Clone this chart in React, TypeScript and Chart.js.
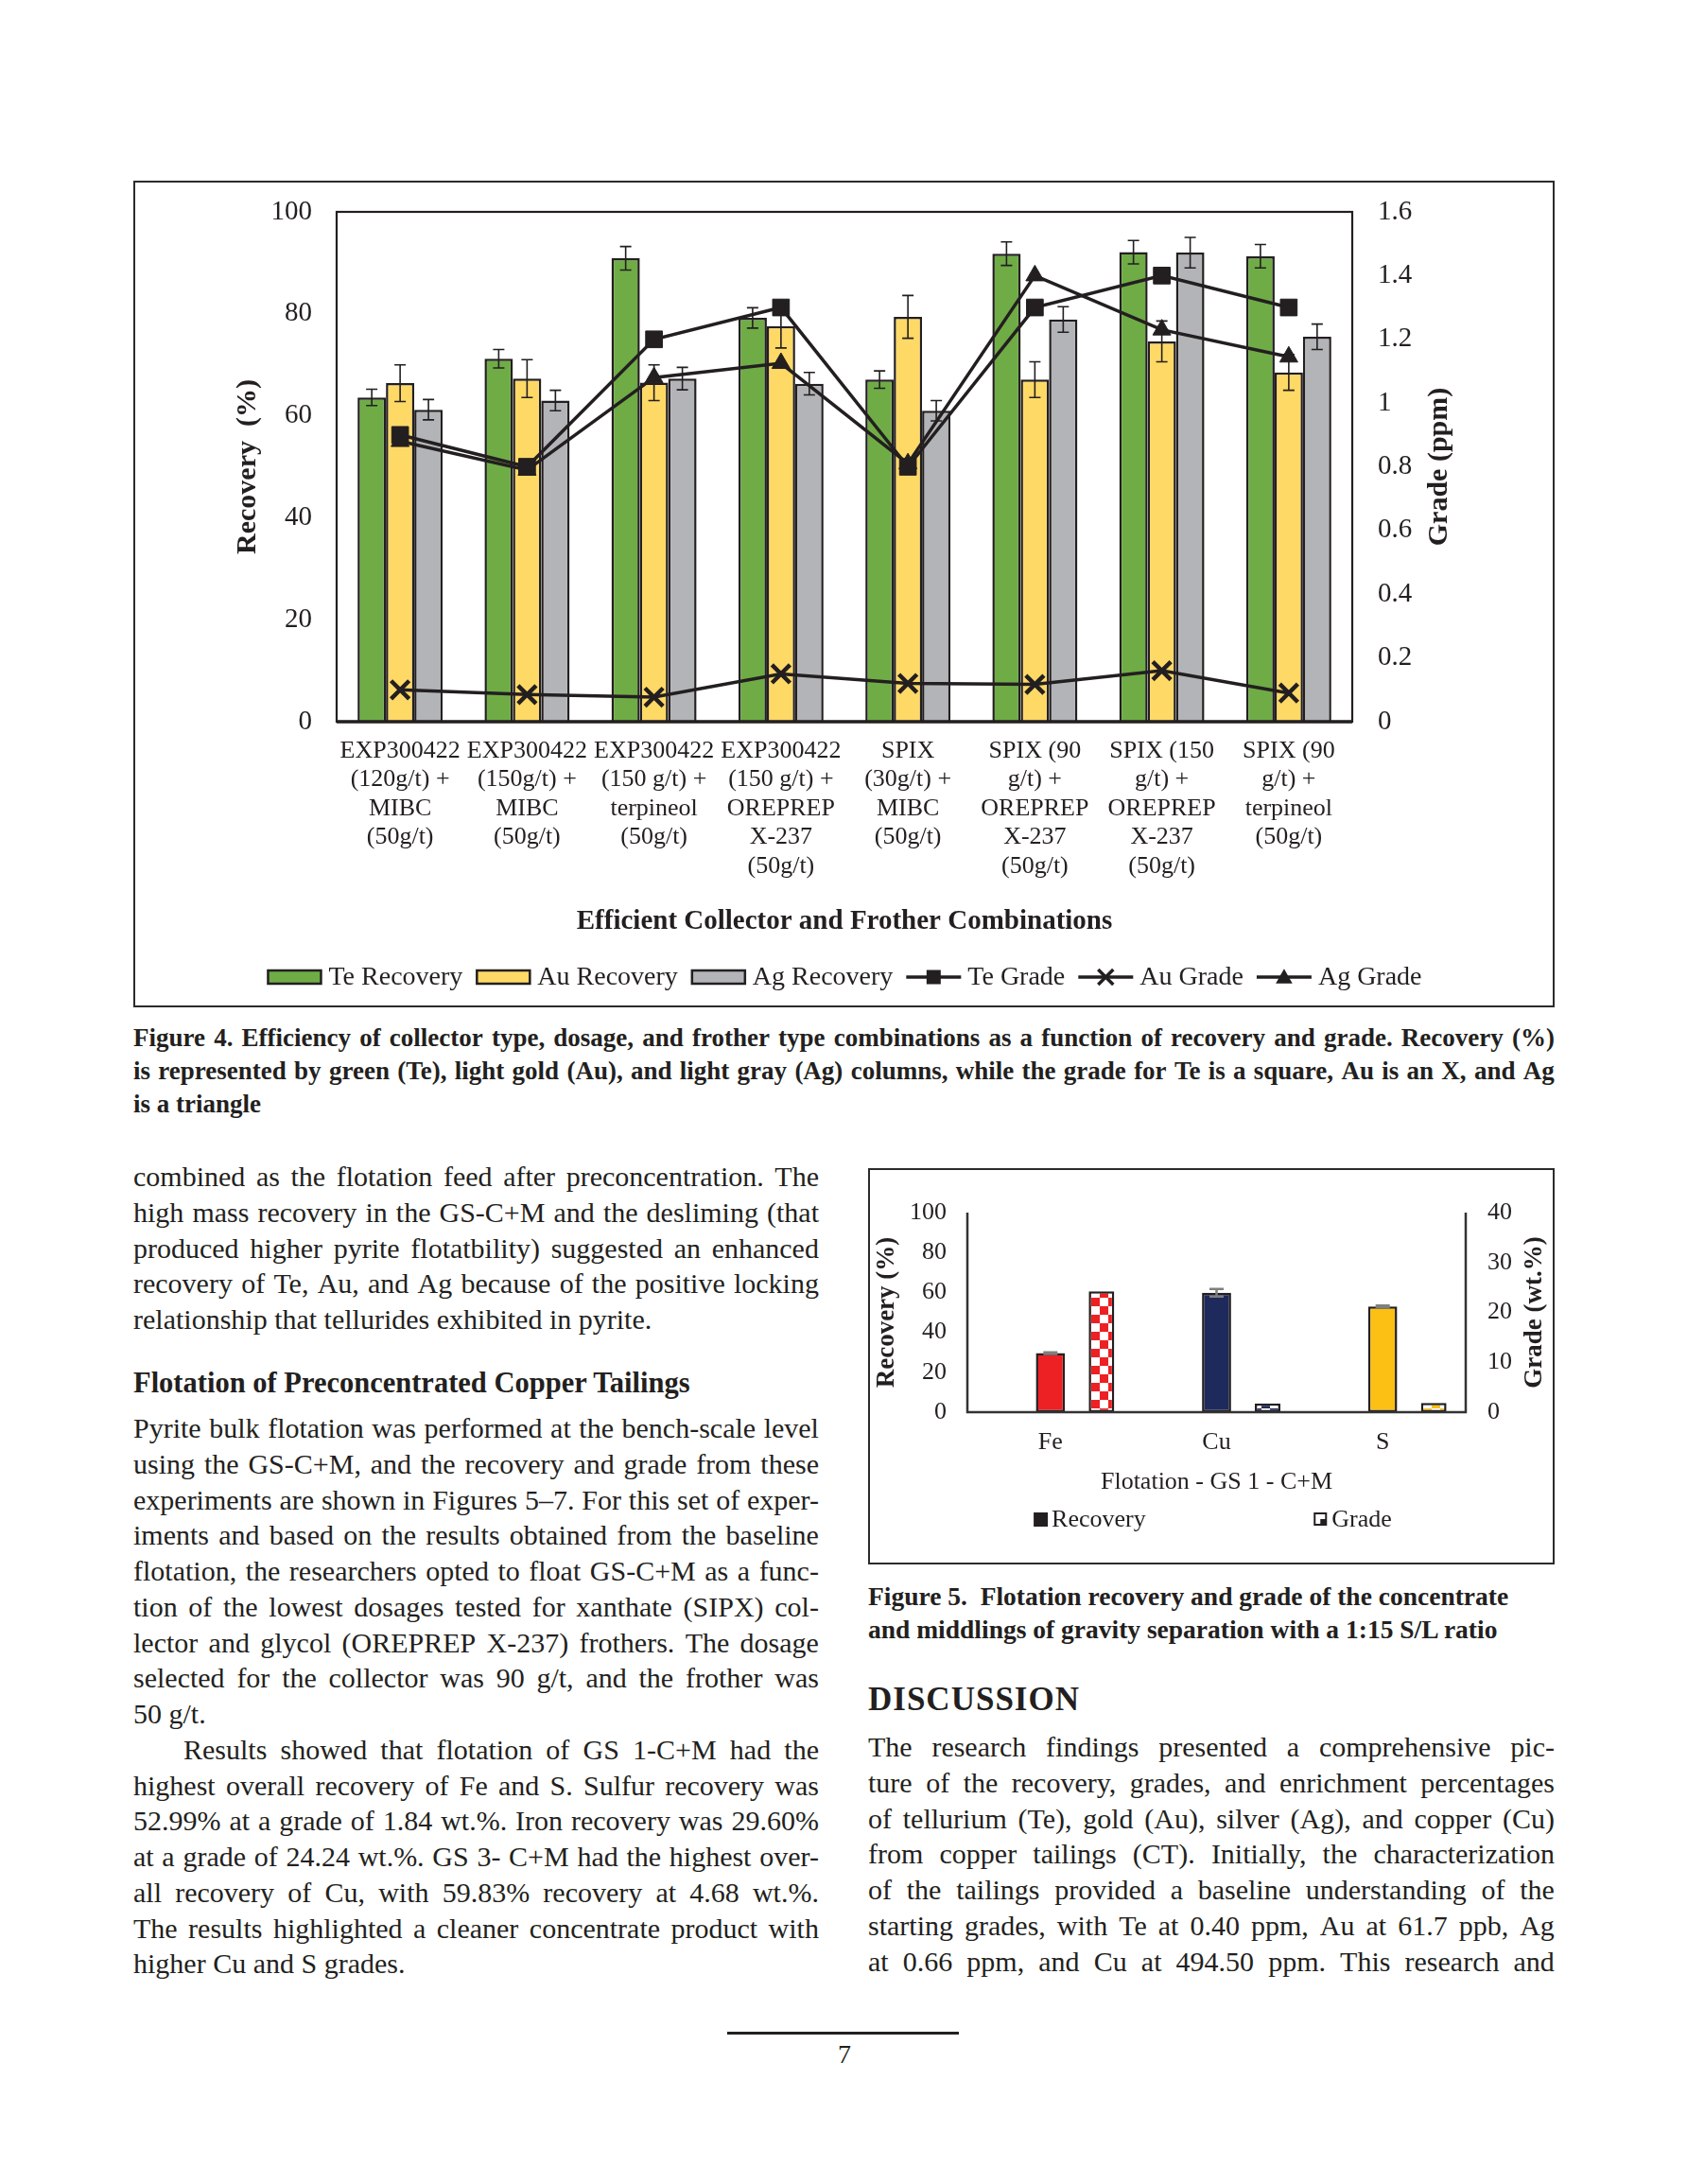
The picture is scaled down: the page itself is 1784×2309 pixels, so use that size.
import React, { useEffect, useRef } from "react";
import { Chart, registerables } from "chart.js";

Chart.register(...registerables);

const SERIF = "'Liberation Serif', 'Times New Roman', serif";
const INK = "#231f20";

// ---------------- Figure 4 data ----------------
const fig4Categories: string[][] = [
  ["EXP300422", "(120g/t) +", "MIBC", "(50g/t)"],
  ["EXP300422", "(150g/t) +", "MIBC", "(50g/t)"],
  ["EXP300422", "(150 g/t) +", "terpineol", "(50g/t)"],
  ["EXP300422", "(150 g/t) +", "OREPREP", "X-237", "(50g/t)"],
  ["SPIX", "(30g/t) +", "MIBC", "(50g/t)"],
  ["SPIX (90", "g/t) +", "OREPREP", "X-237", "(50g/t)"],
  ["SPIX (150", "g/t) +", "OREPREP", "X-237", "(50g/t)"],
  ["SPIX (90", "g/t) +", "terpineol", "(50g/t)"],
];
const teRecovery = [63.6, 71.2, 90.9, 79.2, 67.1, 91.8, 92.1, 91.3];
const teRecoveryErr = [1.6, 1.8, 2.3, 2.0, 1.7, 2.3, 2.3, 2.3];
const auRecovery = [66.4, 67.3, 66.5, 77.6, 79.4, 67.1, 74.6, 68.5];
const auRecoveryErr = [3.6, 3.7, 3.5, 4.3, 4.2, 3.5, 4.0, 3.5];
const agRecovery = [61.2, 63.0, 67.3, 66.3, 61.0, 78.9, 92.0, 75.5];
const agRecoveryErr = [2.0, 2.0, 2.2, 2.2, 2.0, 2.5, 3.0, 2.5];
const teGrade = [0.9, 0.8, 1.2, 1.3, 0.8, 1.3, 1.4, 1.3];
const auGrade = [0.1, 0.085, 0.077, 0.15, 0.12, 0.117, 0.16, 0.09];
const agGrade = [0.88, 0.79, 1.08, 1.125, 0.81, 1.4, 1.23, 1.145];
const fig4SeriesLabels = ["Te Recovery", "Au Recovery", "Ag Recovery", "Te Grade", "Au Grade", "Ag Grade"];
const fig4XTitle = "Efficient Collector and Frother Combinations";
const fig4YTitle = "Recovery  (%)";
const fig4Y2Title = "Grade (ppm)";

// ---------------- Figure 5 data ----------------
const fig5Categories = ["Fe", "Cu", "S"];
const fig5Recovery = [29.6, 59.83, 52.99];
const fig5RecoveryErr = [0.4, 1.9, 0.4];
const fig5Grade = [24.24, 1.75, 1.84];
const fig5SeriesLabels = ["Recovery", "Grade"];
const fig5XTitle = "Flotation - GS 1 - C+M";
const fig5YTitle = "Recovery (%)";
const fig5Y2Title = "Grade (wt.%)";

const GREEN = "#6fac46";
const GOLD = "#ffd966";
const GRAY = "#b3b4b7";
const FE_RED = "#ed2024";
const CU_NAVY = "#1f2a5c";
const S_GOLD = "#fcbf14";

// ---------------- plugins ----------------
const errorBarPlugin = {
  id: "errorBars",
  afterDatasetDraw(chart: any, args: any) {
    const ds: any = chart.data.datasets[args.index];
    if (!ds.errors) return;
    const meta = args.meta;
    const yScale = chart.scales[meta.yAxisID];
    const ctx = chart.ctx;
    ctx.save();
    ctx.strokeStyle = ds.errorColor || INK;
    ctx.lineWidth = ds.errorWidth || 1.5;
    const c = (ds.errorCap || 12) / 2;
    meta.data.forEach((el: any, i: number) => {
      const v = ds.data[i];
      const e = ds.errors[i];
      if (v == null || e == null) return;
      const x = el.x;
      const yt = yScale.getPixelForValue(v + e);
      const yb = yScale.getPixelForValue(v - e);
      ctx.beginPath();
      ctx.moveTo(x, yt);
      ctx.lineTo(x, yb);
      ctx.moveTo(x - c, yt);
      ctx.lineTo(x + c, yt);
      ctx.moveTo(x - c, yb);
      ctx.lineTo(x + c, yb);
      ctx.stroke();
    });
    ctx.restore();
  },
};

const rightTitlePlugin = {
  id: "rightTitle",
  afterDraw(chart: any, _args: any, opts: any) {
    if (!opts || !opts.text) return;
    const { ctx, chartArea } = chart;
    const scale = chart.scales[opts.axis];
    ctx.save();
    ctx.font = `bold ${opts.size}px ${SERIF}`;
    ctx.fillStyle = INK;
    ctx.textAlign = "center";
    ctx.textBaseline = "middle";
    ctx.translate(scale.left + opts.offset, (chartArea.top + chartArea.bottom) / 2);
    ctx.rotate(-Math.PI / 2);
    ctx.fillText(opts.text, 0, 0);
    ctx.restore();
  },
};

function drawMarker(ctx: CanvasRenderingContext2D, style: string, x: number, y: number, s: number) {
  ctx.save();
  ctx.fillStyle = INK;
  ctx.strokeStyle = INK;
  if (style === "rect") {
    ctx.fillRect(x - s / 2, y - s / 2, s, s);
  } else if (style === "triangle") {
    ctx.beginPath();
    ctx.moveTo(x, y - s * 0.55);
    ctx.lineTo(x + s * 0.55, y + s * 0.42);
    ctx.lineTo(x - s * 0.55, y + s * 0.42);
    ctx.closePath();
    ctx.fill();
  } else if (style === "crossRot") {
    ctx.lineWidth = 3.5;
    const h = s / 2;
    ctx.beginPath();
    ctx.moveTo(x - h, y - h);
    ctx.lineTo(x + h, y + h);
    ctx.moveTo(x + h, y - h);
    ctx.lineTo(x - h, y + h);
    ctx.stroke();
  }
  ctx.restore();
}

const fig4LegendPlugin = {
  id: "fig4Legend",
  afterDraw(chart: any) {
    const ctx = chart.ctx;
    const y = chart.height - 30;
    ctx.save();
    ctx.font = `28px ${SERIF}`;
    const symW = 58;
    const gapText = 7;
    const gapItem = 14;
    const items = chart.data.datasets.map((ds: any) => ({
      ds,
      w: symW + gapText + ctx.measureText(ds.label).width,
    }));
    const total = items.reduce((a: number, it: any) => a + it.w, 0) + gapItem * (items.length - 1);
    let x = (chart.chartArea.left + chart.chartArea.right) / 2 - total / 2;
    items.forEach((it: any) => {
      const ds = it.ds;
      if (ds.type === "bar") {
        ctx.fillStyle = ds.backgroundColor;
        ctx.fillRect(x + 1, y - 7, symW - 2, 14);
        ctx.lineWidth = 2.5;
        ctx.strokeStyle = INK;
        ctx.strokeRect(x + 1, y - 7, symW - 2, 14);
      } else {
        ctx.strokeStyle = INK;
        ctx.lineWidth = 3.5;
        ctx.beginPath();
        ctx.moveTo(x, y);
        ctx.lineTo(x + symW, y);
        ctx.stroke();
        drawMarker(ctx, ds.pointStyle, x + symW / 2, y, ds.pointStyle === "rect" ? 15 : 16);
      }
      ctx.fillStyle = INK;
      ctx.textAlign = "left";
      ctx.textBaseline = "middle";
      ctx.fillText(ds.label, x + symW + gapText, y + 1);
      x += it.w + gapItem;
    });
    ctx.restore();
  },
};

const fig4FramePlugin = {
  id: "fig4Frame",
  afterDatasetsDraw(chart: any) {
    const { ctx, chartArea } = chart;
    ctx.save();
    ctx.strokeStyle = INK;
    ctx.lineWidth = 2.2;
    ctx.strokeRect(chartArea.left, chartArea.top, chartArea.right - chartArea.left, chartArea.bottom - chartArea.top);
    ctx.lineWidth = 3.5;
    ctx.beginPath();
    ctx.moveTo(chartArea.left, chartArea.bottom);
    ctx.lineTo(chartArea.right, chartArea.bottom);
    ctx.stroke();
    ctx.restore();
  },
};

const fig5AxesPlugin = {
  id: "fig5Axes",
  afterDatasetsDraw(chart: any) {
    const { ctx, chartArea } = chart;
    ctx.save();
    ctx.strokeStyle = "#333333";
    ctx.lineWidth = 2.5;
    ctx.beginPath();
    ctx.moveTo(chartArea.left, chartArea.top);
    ctx.lineTo(chartArea.left, chartArea.bottom);
    ctx.lineTo(chartArea.right, chartArea.bottom);
    ctx.lineTo(chartArea.right, chartArea.top);
    ctx.stroke();
    ctx.restore();
  },
};

const fig5LegendPlugin = {
  id: "fig5Legend",
  afterDraw(chart: any) {
    const { ctx, chartArea } = chart;
    const y = chart.height - 46;
    const w = chartArea.right - chartArea.left;
    ctx.save();
    ctx.font = `26px ${SERIF}`;
    ctx.textBaseline = "middle";
    ctx.textAlign = "left";
    const x1 = chartArea.left + 0.133 * w;
    ctx.fillStyle = INK;
    ctx.fillRect(x1, y - 7, 15, 15);
    ctx.fillText(fig5SeriesLabels[0], x1 + 19, y + 1);
    const x2 = chartArea.left + 0.695 * w;
    ctx.fillStyle = INK;
    ctx.fillRect(x2, y - 7, 14, 14);
    ctx.fillStyle = "#ffffff";
    ctx.fillRect(x2 + 2, y - 5, 10, 5);
    ctx.fillRect(x2 + 2, y, 5, 5);
    ctx.fillStyle = INK;
    ctx.fillText(fig5SeriesLabels[1], x2 + 19, y + 1);
    ctx.restore();
  },
};

const tickFont = (size: number) => ({ family: SERIF, size });

// fix the width of a vertical axis and drop the extra vertical padding Chart.js derives from tick padding
const fixVertical = (width: number) => (s: any) => {
  s.width = width;
  s.paddingTop = 0;
  s.paddingBottom = 0;
};

function Figure4Chart() {
  const ref = useRef<HTMLCanvasElement>(null);
  useEffect(() => {
    const canvas = ref.current!;
    const barBase = { type: "bar", borderColor: INK, borderWidth: 2.5, yAxisID: "y", order: 2, errorCap: 12, errorWidth: 1.6 };
    const lineBase = {
      type: "line",
      yAxisID: "y2",
      borderColor: INK,
      borderWidth: 3.5,
      pointBackgroundColor: INK,
      pointBorderColor: INK,
      tension: 0,
      order: 1,
    };
    const chart = new Chart(canvas, {
      type: "bar",
      data: {
        labels: fig4Categories as any,
        datasets: [
          { ...barBase, label: fig4SeriesLabels[0], data: teRecovery, errors: teRecoveryErr, backgroundColor: GREEN },
          { ...barBase, label: fig4SeriesLabels[1], data: auRecovery, errors: auRecoveryErr, backgroundColor: GOLD },
          { ...barBase, label: fig4SeriesLabels[2], data: agRecovery, errors: agRecoveryErr, backgroundColor: GRAY },
          { ...lineBase, label: fig4SeriesLabels[3], data: teGrade, pointStyle: "rect", pointRadius: 12.5, pointBorderWidth: 1 },
          { ...lineBase, label: fig4SeriesLabels[4], data: auGrade, pointStyle: "crossRot", pointRadius: 13.5, pointBorderWidth: 4.5 },
          { ...lineBase, label: fig4SeriesLabels[5], data: agGrade, pointStyle: "triangle", pointRadius: 11, pointBorderWidth: 1 },
        ] as any,
      },
      options: {
        responsive: false,
        animation: false,
        devicePixelRatio: 1,
        layout: { padding: { top: 31, bottom: 70, left: 0, right: 0 } },
        datasets: { bar: { categoryPercentage: 0.67, barPercentage: 1.0 } } as any,
        plugins: {
          legend: { display: false },
          tooltip: { enabled: false },
          rightTitle: { text: fig4Y2Title, axis: "y2", offset: 92, size: 30 },
        } as any,
        scales: {
          x: {
            grid: { display: false, drawTicks: false },
            border: { display: false },
            ticks: {
              color: INK,
              font: { family: SERIF, size: 26, lineHeight: 1.17 },
              padding: 16,
              autoSkip: false,
              maxRotation: 0,
              minRotation: 0,
            },
            title: {
              display: true,
              text: fig4XTitle,
              color: INK,
              font: { family: SERIF, size: 29, weight: "bold", lineHeight: 1.15 },
              padding: { top: 0, bottom: 2 },
            },
            afterFit: (s: any) => {
              s.height = 230;
            },
          },
          y: {
            position: "left",
            min: 0,
            max: 100,
            grid: { display: false, drawTicks: false },
            border: { display: false },
            ticks: { stepSize: 20, color: INK, font: tickFont(29), padding: 26 },
            title: {
              display: true,
              text: fig4YTitle,
              color: INK,
              font: { family: SERIF, size: 30, weight: "bold", lineHeight: 1.15 },
              padding: { top: 102, bottom: 0 },
            },
            afterFit: fixVertical(213),
          },
          y2: {
            position: "right",
            min: 0,
            max: 1.6,
            grid: { display: false, drawTicks: false },
            border: { display: false },
            ticks: {
              stepSize: 0.2,
              color: INK,
              font: tickFont(29),
              padding: 27,
              callback: (v: any) => String(Number(Number(v).toFixed(1))),
            },
            afterFit: fixVertical(212),
          },
        } as any,
      },
      plugins: [errorBarPlugin, fig4FramePlugin, rightTitlePlugin, fig4LegendPlugin] as any,
    });
    return () => chart.destroy();
  }, []);
  return <canvas ref={ref} width={1499} height={870} style={{ display: "block" }} />;
}

function Figure5Chart() {
  const ref = useRef<HTMLCanvasElement>(null);
  useEffect(() => {
    const canvas = ref.current!;
    const mainCtx = canvas.getContext("2d")!;
    const checker = (color: string) => {
      const c = document.createElement("canvas");
      c.width = 18;
      c.height = 18;
      const g = c.getContext("2d")!;
      g.fillStyle = "#ffffff";
      g.fillRect(0, 0, 18, 18);
      g.fillStyle = color;
      g.fillRect(9, 0, 9, 9);
      g.fillRect(0, 9, 9, 9);
      return mainCtx.createPattern(c, "repeat");
    };
    const recColors = [FE_RED, CU_NAVY, S_GOLD];
    const gradePatterns = recColors.map(checker);
    const chart = new Chart(canvas, {
      type: "bar",
      data: {
        labels: fig5Categories,
        datasets: [
          { label: "", data: [null, null, null], yAxisID: "y", backgroundColor: "rgba(0,0,0,0)", borderWidth: 0 },
          {
            label: fig5SeriesLabels[0],
            data: fig5Recovery,
            errors: fig5RecoveryErr,
            errorColor: "#7f7f7f",
            errorCap: 15,
            errorWidth: 2.5,
            yAxisID: "y",
            backgroundColor: recColors,
            borderColor: INK,
            borderWidth: 2.5,
            borderSkipped: false,
            barPercentage: 0.57,
          },
          {
            label: fig5SeriesLabels[1],
            data: fig5Grade,
            yAxisID: "y2",
            backgroundColor: gradePatterns,
            borderColor: INK,
            borderWidth: 2.5,
            borderSkipped: false,
            barPercentage: 0.5,
          },
        ] as any,
      },
      options: {
        responsive: false,
        animation: false,
        devicePixelRatio: 1,
        layout: { padding: { top: 45, bottom: 59, left: 0, right: 0 } },
        datasets: { bar: { categoryPercentage: 0.922 } } as any,
        plugins: {
          legend: { display: false },
          tooltip: { enabled: false },
          rightTitle: { text: fig5Y2Title, axis: "y2", offset: 73, size: 27 },
        } as any,
        scales: {
          x: {
            grid: { display: false, drawTicks: false },
            border: { display: false },
            ticks: { color: INK, font: { family: SERIF, size: 26, lineHeight: 1.1 }, padding: 18, maxRotation: 0, autoSkip: false },
            title: {
              display: true,
              text: fig5XTitle,
              color: INK,
              font: { family: SERIF, size: 26, lineHeight: 1.1 },
              padding: { top: 0, bottom: 12 },
            },
            afterFit: (s: any) => {
              s.height = 100;
            },
          },
          y: {
            position: "left",
            min: 0,
            max: 100,
            grid: { display: false, drawTicks: false },
            border: { display: false },
            ticks: { stepSize: 20, color: INK, font: tickFont(26), padding: 22 },
            title: {
              display: true,
              text: fig5YTitle,
              color: INK,
              font: { family: SERIF, size: 27, weight: "bold", lineHeight: 1.15 },
              padding: { top: 3, bottom: 0 },
            },
            afterFit: fixVertical(103),
          },
          y2: {
            position: "right",
            min: 0,
            max: 40,
            grid: { display: false, drawTicks: false },
            border: { display: false },
            ticks: { stepSize: 10, color: INK, font: tickFont(26), padding: 23 },
            afterFit: fixVertical(92),
          },
        } as any,
      },
      plugins: [errorBarPlugin, fig5AxesPlugin, rightTitlePlugin, fig5LegendPlugin] as any,
    });
    return () => chart.destroy();
  }, []);
  return <canvas ref={ref} width={722} height={415} style={{ display: "block" }} />;
}

// ---------------- page text ----------------
const fig4Caption = [
  "Figure 4.  Efficiency of collector type, dosage, and frother type combinations as a function of recovery and grade. Recovery (%)",
  "is represented by green (Te), light gold (Au), and light gray (Ag) columns, while the grade for Te is a square, Au is an X, and Ag",
  "is a triangle",
];
const leftP1 = [
  "combined as the flotation feed after preconcentration. The",
  "high mass recovery in the GS-C+M and the desliming (that",
  "produced higher pyrite flotatbility) suggested an enhanced",
  "recovery of Te, Au, and Ag because of the positive locking",
  "relationship that tellurides exhibited in pyrite.",
];
const leftHeading = "Flotation of Preconcentrated Copper Tailings";
const leftP2 = [
  "Pyrite bulk flotation was performed at the bench-scale level",
  "using the GS-C+M, and the recovery and grade from these",
  "experiments are shown in Figures 5–7. For this set of exper-",
  "iments and based on the results obtained from the baseline",
  "flotation, the researchers opted to float GS-C+M as a func-",
  "tion of the lowest dosages tested for xanthate (SIPX) col-",
  "lector and glycol (OREPREP X-237) frothers. The dosage",
  "selected for the collector was 90 g/t, and the frother was",
  "50 g/t.",
];
const leftP3 = [
  "Results showed that flotation of GS 1-C+M had the",
  "highest overall recovery of Fe and S. Sulfur recovery was",
  "52.99% at a grade of 1.84 wt.%. Iron recovery was 29.60%",
  "at a grade of 24.24 wt.%. GS 3- C+M had the highest over-",
  "all recovery of Cu, with 59.83% recovery at 4.68 wt.%.",
  "The results highlighted a cleaner concentrate product with",
  "higher Cu and S grades.",
];
const fig5Caption = [
  "Figure 5.  Flotation recovery and grade of the concentrate",
  "and middlings of gravity separation with a 1:15 S/L ratio",
];
const rightHeading = "DISCUSSION";
const rightP = [
  "The research findings presented a comprehensive pic-",
  "ture of the recovery, grades, and enrichment percentages",
  "of tellurium (Te), gold (Au), silver (Ag), and copper (Cu)",
  "from copper tailings (CT). Initially, the characterization",
  "of the tailings provided a baseline understanding of the",
  "starting grades, with Te at 0.40 ppm, Au at 61.7 ppb, Ag",
  "at 0.66 ppm, and Cu at 494.50 ppm. This research and",
];

let measureCtx: CanvasRenderingContext2D | null = null;
function measure(text: string, font: string): number {
  if (!measureCtx) {
    measureCtx = document.createElement("canvas").getContext("2d");
  }
  measureCtx!.font = font;
  return measureCtx!.measureText(text).width;
}

function TextLine(props: {
  text: string;
  x: number;
  width: number;
  cy: number;
  size: number;
  lh: number;
  bold?: boolean;
  justify?: boolean;
  indent?: number;
  spacing?: number;
}) {
  const { text, x, width, cy, size, lh, bold, justify, indent = 0, spacing = 0 } = props;
  const avail = width - indent;
  const natural = measure(text, `${bold ? "bold " : ""}${size}px ${SERIF}`) + spacing * text.length;
  const squeeze = natural > avail ? avail / natural : 1;
  const innerWidth = squeeze < 1 ? natural : avail;
  const base: React.CSSProperties = {
    position: "absolute",
    left: x + indent,
    width: innerWidth,
    top: cy - lh / 2,
    height: lh,
    lineHeight: `${lh}px`,
    fontFamily: SERIF,
    fontSize: size,
    fontWeight: bold ? 700 : 400,
    color: INK,
    whiteSpace: "pre",
    letterSpacing: spacing,
    transform: squeeze < 1 ? `scaleX(${squeeze})` : undefined,
    transformOrigin: "left center",
  };
  if (justify) {
    const words = text.split(" ").filter((w) => w.length > 0);
    return (
      <div style={{ ...base, display: "flex", justifyContent: "space-between" }}>
        {words.map((w, i) => (
          <span key={i}>{w}</span>
        ))}
      </div>
    );
  }
  return <div style={base}>{text}</div>;
}

function Paragraph(props: {
  lines: string[];
  x: number;
  width: number;
  cy0: number;
  step: number;
  size: number;
  bold?: boolean;
  justifyLast?: boolean;
  indentFirst?: number;
  justify?: boolean;
}) {
  const { lines, x, width, cy0, step, size, bold, justifyLast, indentFirst = 0, justify = true } = props;
  return (
    <>
      {lines.map((t, i) => (
        <TextLine
          key={i}
          text={t}
          x={x}
          width={width}
          cy={cy0 + i * step}
          size={size}
          lh={step}
          bold={bold}
          indent={i === 0 ? indentFirst : 0}
          justify={justify && (i < lines.length - 1 || !!justifyLast)}
        />
      ))}
    </>
  );
}

export default function App() {
  useEffect(() => {
    document.body.style.margin = "0";
    document.body.style.background = "#ffffff";
  }, []);
  const LX = 141;
  const LW = 725;
  const RX = 918;
  const RW = 726;
  const STEP = 37.75;
  const BODY = 30;
  return (
    <div style={{ position: "absolute", left: 0, top: 0, width: 1784, height: 2309, background: "#ffffff", overflow: "hidden" }}>
      <div
        style={{
          position: "absolute",
          left: 141,
          top: 191,
          width: 1499,
          height: 870,
          border: "2px solid #2b2b2b",
        }}
      >
        <Figure4Chart />
      </div>
      <Paragraph lines={fig4Caption} x={141} width={1503} cy0={1097} step={35} size={27} bold />

      <Paragraph lines={leftP1} x={LX} width={LW} cy0={1244} step={STEP} size={BODY} />
      <TextLine text={leftHeading} x={LX} width={LW} cy={1462} size={30.5} lh={36} bold />
      <Paragraph lines={leftP2} x={LX} width={LW} cy0={1510} step={STEP} size={BODY} />
      <Paragraph lines={leftP3} x={LX} width={LW} cy0={1510 + 9 * STEP} step={STEP} size={BODY} indentFirst={53} />

      <div
        style={{
          position: "absolute",
          left: 918,
          top: 1235,
          width: 722,
          height: 415,
          border: "2px solid #2b2b2b",
        }}
      >
        <Figure5Chart />
      </div>
      <Paragraph lines={fig5Caption} x={RX} width={RW} cy0={1687} step={35} size={27.5} bold justify={false} />
      <TextLine text={rightHeading} x={RX} width={RW} cy={1797} size={35} lh={40} bold spacing={1} />
      <Paragraph lines={rightP} x={RX} width={RW} cy0={1847} step={STEP} size={BODY} justifyLast />

      <div style={{ position: "absolute", left: 769, top: 2148, width: 245, height: 3, background: INK }} />
      <div
        style={{
          position: "absolute",
          left: 843,
          width: 100,
          top: 2154,
          height: 36,
          lineHeight: "36px",
          textAlign: "center",
          fontFamily: SERIF,
          fontSize: 28,
          color: INK,
        }}
      >
        7
      </div>
    </div>
  );
}
